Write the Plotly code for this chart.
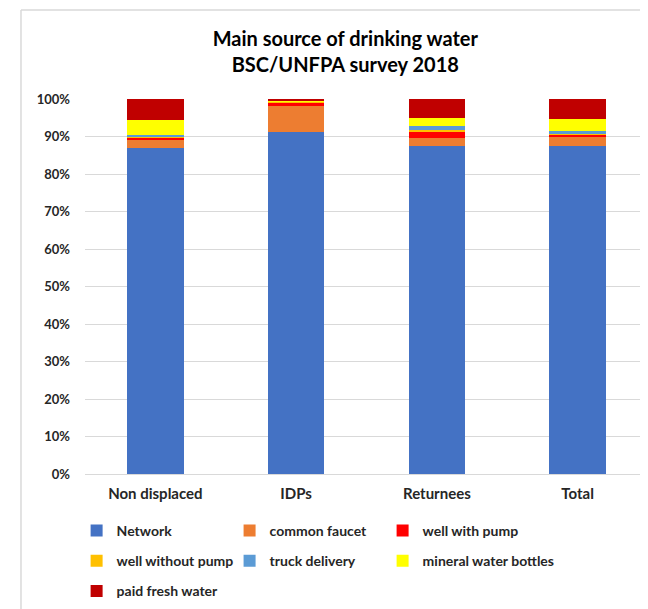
"""
Main source of drinking water - stacked 100% bar chart
"""

import plotly.graph_objects as go

# カテゴリ
groups = ["Non displaced", "IDPs", "Returnees", "Total"]

# 各水源の割合(%)
network = [87.0, 91.3, 87.4, 87.5]
common_faucet = [2.2, 6.9, 2.3, 2.3]
well_with_pump = [0.6, 0.8, 1.7, 0.7]
well_without_pump = [0.2, 0.2, 0.4, 0.3]
truck_delivery = [0.3, 0.0, 1.1, 0.6]
mineral_water = [4.0, 0.3, 2.0, 3.2]
paid_fresh_water = [5.7, 0.5, 5.1, 5.4]

# 凡例は列ごとに分ける(legend=1列目, legend2=2列目, legend3=3列目)
series = [
    ("Network", network, "#4472C4", "legend"),
    ("common faucet", common_faucet, "#ED7D31", "legend2"),
    ("well with pump", well_with_pump, "#FF0000", "legend3"),
    ("well without pump", well_without_pump, "#FFC000", "legend"),
    ("truck delivery", truck_delivery, "#5B9BD5", "legend2"),
    ("mineral water bottles", mineral_water, "#FFFF00", "legend3"),
    ("paid fresh water", paid_fresh_water, "#C00000", "legend"),
]

FONT = "Lato, 'Open Sans', Arial, sans-serif"
TXT = "#262626"

fig = go.Figure()
for name, vals, color, lg in series:
    fig.add_trace(
        go.Bar(
            x=groups,
            y=[v / 100 for v in vals],
            name=name,
            legendgroup=name,
            marker=dict(color=color, line=dict(width=0)),
            legend=lg,
        )
    )

legend_common = dict(
    orientation="v",
    xanchor="left",
    yanchor="top",
    y=-0.1093,
    tracegroupgap=9,
    font=dict(family=FONT, size=14, color=TXT, weight=700),
    bgcolor="rgba(0,0,0,0)",
    traceorder="grouped",
)

# ページ余白(8px)を考慮してサイズを調整
fig.update_layout(
    width=640,
    height=601,
    barmode="stack",
    bargap=0.6,
    paper_bgcolor="white",
    plot_bgcolor="white",
    margin=dict(l=77, r=0, t=91, b=135),
    font=dict(family=FONT, size=13, color=TXT),
    title=dict(
        text="Main source of drinking water<br>BSC/UNFPA survey 2018",
        x=0.527,
        xanchor="center",
        xref="container",
        y=0.9376,
        yanchor="middle",
        font=dict(family=FONT, size=20, color="#000000", weight=700),
    ),
    legend=dict(legend_common, x=-0.0149),
    legend2=dict(legend_common, x=0.2568),
    legend3=dict(legend_common, x=0.5286),
    xaxis=dict(
        showgrid=False,
        showline=False,
        ticks="",
        ticklabelstandoff=9,
        tickfont=dict(family=FONT, size=15, color=TXT, weight=700),
    ),
    yaxis=dict(
        range=[0, 1],
        tickformat=".0%",
        dtick=0.1,
        showgrid=True,
        gridcolor="#D9D9D9",
        gridwidth=1,
        zeroline=True,
        zerolinecolor="#D9D9D9",
        zerolinewidth=1,
        ticks="",
        ticklabelstandoff=14,
        tickfont=dict(family=FONT, size=13, color=TXT, weight=700),
    ),
    shapes=[
        # chart area border
        dict(type="line", xref="paper", yref="paper", x0=-0.1137, x1=1.0, y0=1.2373, y1=1.2373,
             line=dict(color="#D9D9D9", width=1.5)),
        dict(type="line", xref="paper", yref="paper", x0=-0.1137, x1=-0.1137, y0=1.2373, y1=-0.36,
             line=dict(color="#D9D9D9", width=1.5)),
    ],
)

fig.write_html("out.html", config={"displayModeBar": False})
